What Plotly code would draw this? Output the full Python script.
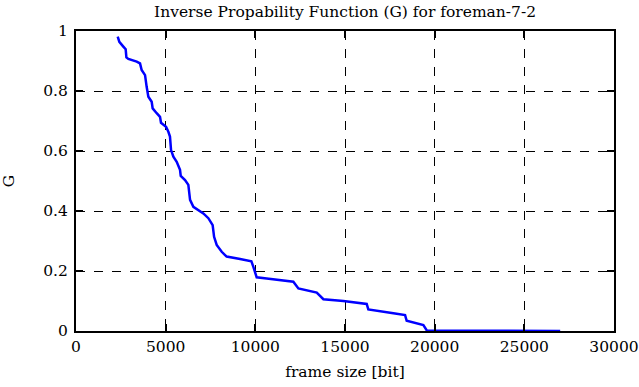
import plotly.graph_objects as go

frame_size = [2325, 2416, 2640, 2770, 2810, 2920, 3385, 3570, 3660, 3850, 3940, 4035,
              4220, 4275, 4500, 4685, 4740, 5020, 5150, 5240, 5300, 5430, 5615, 5800,
              5840, 6080, 6265, 6360, 6545, 6820, 7100, 7380, 7620, 7700, 7845, 8125,
              8400, 9150, 9780, 9890, 10075, 10635, 11005, 12120, 12400, 13425, 13795,
              14910, 16210, 16300, 17700, 18350, 18440, 19370, 19560, 27000]
g_values = [0.981, 0.964, 0.948, 0.939, 0.912, 0.907, 0.898, 0.892, 0.870, 0.853, 0.814, 0.781,
            0.764, 0.742, 0.726, 0.714, 0.694, 0.681, 0.664, 0.648, 0.603, 0.581, 0.564, 0.537,
            0.517, 0.503, 0.487, 0.437, 0.414, 0.403, 0.392, 0.376, 0.353, 0.314, 0.287, 0.264,
            0.248, 0.240, 0.232, 0.214, 0.179, 0.175, 0.172, 0.164, 0.142, 0.128, 0.106,
            0.100, 0.090, 0.072, 0.059, 0.053, 0.034, 0.020, 0.002, 0.0]

x_ticks = [0, 5000, 10000, 15000, 20000, 25000, 30000]
y_ticks = [0, 0.2, 0.4, 0.6, 0.8, 1]
y_tick_labels = ["0", "0.2", "0.4", "0.6", "0.8", "1"]

font = "DejaVu Serif"
fsize = 15.5

fig = go.Figure()
fig.add_trace(go.Scatter(x=frame_size, y=g_values, mode="lines",
                         line=dict(color="#0000ff", width=2.5), showlegend=False))

axis_common = dict(
    showline=True, linecolor="black", linewidth=2, mirror="ticks",
    ticks="inside", ticklen=7, tickwidth=2, tickcolor="black",
    showgrid=True, gridcolor="black", gridwidth=1, griddash="dash",
    zeroline=False, automargin=False,
    tickfont=dict(family=font, size=fsize, color="black"),
)

fig.update_xaxes(range=[0, 30000], tickvals=x_ticks, ticktext=[str(v) for v in x_ticks],
                 title=dict(text="frame size [bit]", font=dict(family=font, size=fsize, color="black"), standoff=12),
                 **axis_common)
fig.update_yaxes(range=[0, 1], tickvals=y_ticks, ticktext=y_tick_labels, ticklabelstandoff=3,
                 title=dict(text="G", font=dict(family=font, size=fsize, color="black"), standoff=25),
                 **axis_common)

fig.update_layout(
    width=639, height=387,
    margin=dict(l=76, r=25, t=31, b=56),
    paper_bgcolor="white", plot_bgcolor="white",
    title=dict(text="Inverse Propability Function (G) for foreman-7-2",
               font=dict(family=font, size=fsize, color="black"),
               x=0.54, xanchor="center", yref="container", y=1 - 12 / 387, yanchor="middle"),
)

fig.write_html("out.html", config={"displayModeBar": False},
               post_script="document.body.style.margin='0';document.body.style.overflow='hidden';")
